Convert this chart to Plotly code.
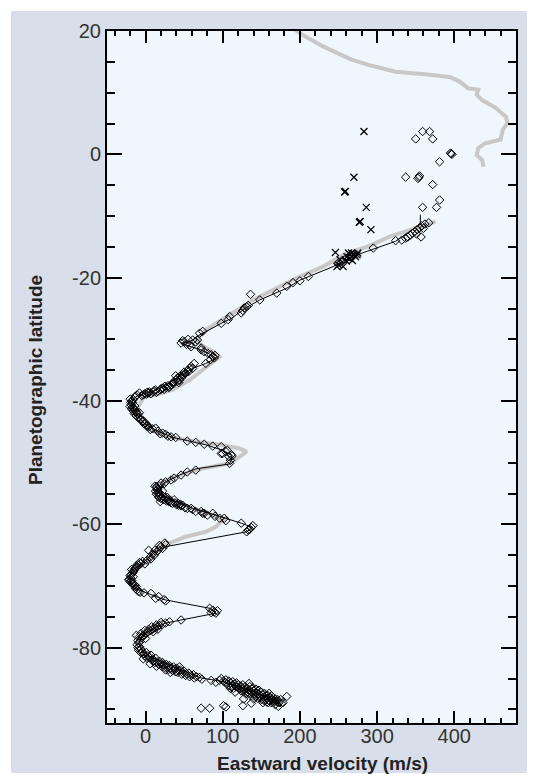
import plotly.graph_objects as go

# ---------------- data ----------------
# reference profile (thick gray), two pieces separated by None
gray_v = [187, 203, 230, 266, 292, 324, 369, 395, 407, 418, 431, 429, 436, 454, 467, 469, 463, 460, 440, 431, 429, 436, 438,
          None,
          376, 348, 317, 287, 261, 230, 200, 165, 135, 122, 109, 96, 78, 70, 66, 76, 87, 96, 85, 72, 57, 35, 13, -2, -11, -6, 0,
          17, 39, 65, 96, 122, 131, 122, 109, 96, 75, 44, 26, 15, 24, 39, 61, 83, 100, 91, 78, 52, 26, 13, -4, -17, -22, -17, -11]
gray_lat = [20.8, 19.4, 17.5, 15.4, 14.4, 13.4, 12.9, 12.5, 11.8, 10.7, 10.5, 9.7, 8.8, 7.5, 6.1, 5.1, 4.0, 2.4, 1.8, 1.0, -0.1, -0.9, -2.0,
            None,
            -10.9, -12.0, -13.3, -15.0, -16.0, -18.2, -19.8, -22.0, -23.9, -25.0, -26.0, -27.1, -28.5, -29.6, -30.4, -31.2, -31.9, -32.8,
            -33.9, -35.0, -36.6, -38.2, -39.0, -39.3, -41.2, -43.1, -44.2, -45.2, -46.0, -46.6, -47.1, -47.7, -48.2, -49.0, -50.1, -50.4,
            -50.9, -52.0, -53.1, -54.4, -55.5, -56.3, -57.4, -58.3, -59.3, -60.4, -61.2, -62.0, -63.3, -64.4, -66.6, -67.4, -68.7, -69.8, -70.5]

# fitted profile (thin black)
fit_v = [356, 356, 324, 296, 267, 243, 200, 183, 148, 130, 111, 98, 78, 70, 57, 46, 59, 72, 85, 91, 78, 61, 48, 26, 9, -9, -17, -17,
         -11, -2, 13, 35, 54, 78, 98, 111, 111, 109, 65, 44, 26, 15, 24, 39, 61, 83, 104, 124, 139, 131, 26, 13, -4, -17, -22, -17,
         -9, 7, 24, 83, 91, 46, 26, 9, -4, -9, -4, 9, 17, 35, 57, 72, 87, 104, 122, 139, 157, 174]
fit_lat = [-9.8, -11.3, -14.1, -15.3, -16.6, -18.2, -20.4, -21.7, -23.6, -24.9, -26.6, -27.4, -28.7, -29.3, -30.4, -30.6, -31.2,
           -31.7, -32.5, -33.1, -33.9, -34.7, -35.7, -37.4, -38.5, -39.0, -39.8, -40.9, -42.3, -43.6, -44.7, -45.9, -46.4, -47.1,
           -47.9, -48.7, -49.5, -50.2, -51.0, -52.0, -53.1, -54.4, -55.5, -56.3, -57.4, -58.2, -59.0, -59.8, -60.5, -61.2, -63.6,
           -64.4, -66.3, -67.4, -68.7, -69.8, -70.6, -71.4, -72.2, -73.6, -74.4, -75.5, -76.0, -76.9, -77.9, -79.3, -80.6, -81.7,
           -82.0, -83.0, -84.1, -84.9, -85.2, -85.6, -86.3, -87.1, -87.9, -88.7]

# cloud-tracked winds (open diamonds), grouped by latitude band: (velocity, latitude)
diam_equator = [(350, 2.5), (359, 3.7), (368, 3.7), (372, 2.5), (396, 0.1), (397, 0.0), (395, 0.2), (381, -1.2), (337, -3.7),
                (354, -3.7), (355, -3.5), (353, -3.9), (372, -4.9), (381, -7.4), (359, -8.6), (377, -8.6), (367, -11.1),
                (357, -13.4), (295, -15.2), (324, -14.0)]
diam_m10_20 = [(362, -11.3), (358, -11.6), (355, -11.9), (352, -12.2), (349, -12.5), (346, -12.8), (343, -13.1), (340, -13.4),
               (360, -12.0), (351, -12.9), (337, -13.6), (332, -13.9), (270, -16.3), (265, -16.6), (260, -16.9), (255, -17.2),
               (250, -17.6), (211, -19.8), (200, -20.5)]
diam_m20_30 = [(191, -20.8), (183, -21.4), (170, -22.5), (148, -23.6), (136, -22.7), (131, -24.7), (128, -24.9), (126, -25.3),
               (133, -24.5), (124, -25.7), (109, -26.3), (107, -26.8), (98, -27.4), (74, -28.7), (70, -29.0)]
diam_kink = [(61, -30.1), (50, -30.4), (46, -30.6), (57, -30.9), (59, -31.2), (65, -30.4), (67, -30.1), (72, -31.7), (85, -32.5),
             (87, -32.8), (89, -33.0), (84, -33.3), (78, -33.9), (53, -30.8), (48, -30.2), (55, -30.0), (72, -31.4), (76, -32.0),
             (81, -32.3), (90, -32.6)]
diam_m33_39 = [(61, -34.7), (57, -34.7), (52, -35.5), (46, -36.3), (44, -36.6), (31, -37.7), (22, -37.9), (13, -38.2), (4, -38.7),
               (63, -33.9), (59, -34.4), (55, -35.0), (50, -35.3), (48, -35.8), (45, -35.9), (42, -36.2), (40, -36.5), (37, -36.9),
               (35, -37.1), (33, -37.4), (29, -37.5), (27, -37.8), (24, -38.1), (19, -38.2), (16, -38.4), (10, -38.5), (7, -38.8),
               (1, -38.9), (-3, -39.0), (39, -35.9), (43, -37.0), (-8, -38.7), (56, -35.2), (51, -35.6), (47, -36.0), (41, -36.8),
               (36, -37.2), (30, -37.8), (25, -37.6), (20, -38.0), (14, -38.6), (11, -38.3), (5, -38.5), (2, -38.6), (-1, -38.8),
               (-5, -39.1)]
diam_m39_48 = [(-11, -39.0), (-17, -40.3), (-15, -41.2), (-11, -42.0), (-4, -43.3), (4, -44.2), (13, -44.4), (22, -45.2),
               (33, -45.8), (39, -45.9), (54, -46.5), (65, -46.7), (76, -47.0), (87, -47.3), (-14, -39.4), (-16, -39.8),
               (-18, -40.0), (-19, -40.6), (-17, -41.0), (-13, -41.5), (-14, -40.8), (-18, -41.3), (-12, -42.4), (-9, -42.7),
               (-7, -43.0), (-2, -43.7), (1, -44.0), (6, -44.6), (9, -44.5), (16, -44.9), (19, -45.3), (26, -45.4), (29, -45.7),
               (-20, -39.7), (-15, -42.0), (-8, -41.9), (-13, -39.2), (-19, -40.2), (-20, -40.9), (-16, -41.6), (-12, -41.8),
               (-10, -42.2), (-6, -42.9), (-3, -43.2), (0, -43.6), (3, -44.0)]
diam_m48_60 = [(98, -47.4), (104, -48.2), (111, -48.7), (98, -48.5), (109, -50.1), (100, -48.5), (106, -48.0), (108, -49.0),
               (110, -49.6), (112, -48.9), (65, -51.2), (54, -51.5), (46, -52.0), (37, -52.5), (33, -52.8), (26, -53.1),
               (20, -53.3), (15, -54.4), (24, -53.4), (18, -53.8), (15, -54.0), (13, -54.6), (16, -54.8), (14, -55.1),
               (18, -55.3), (17, -55.6), (20, -55.8), (22, -55.4), (24, -56.0), (27, -56.2), (30, -56.3), (33, -56.5),
               (35, -56.6), (37, -56.0), (40, -56.8), (43, -56.9), (46, -57.0), (48, -56.9), (51, -57.3), (54, -57.4),
               (59, -57.4), (61, -57.6), (65, -57.9), (72, -57.9), (74, -58.2), (76, -58.2), (80, -58.5), (87, -58.2),
               (90, -58.7), (96, -59.0), (22, -54.6), (19, -56.3), (28, -55.6), (12, -53.8), (14, -53.9), (16, -54.3),
               (17, -54.9), (19, -55.0), (21, -55.7), (25, -55.6), (29, -56.0), (32, -56.1), (38, -56.5), (42, -56.6),
               (45, -56.7)]
diam_m60_71 = [(124, -59.8), (137, -60.5), (139, -60.2), (131, -61.2), (133, -60.9), (135, -60.8), (102, -59.0), (104, -59.4),
               (26, -63.3), (20, -63.6), (4, -64.2), (11, -65.0), (2, -65.8), (22, -63.9), (17, -64.1), (14, -64.5), (9, -64.8),
               (6, -65.3), (25, -63.0), (18, -63.4), (12, -64.2), (7, -65.6), (-4, -66.0), (-9, -66.6), (-13, -67.1),
               (-17, -67.9), (-19, -68.7), (-17, -69.5), (-13, -70.4), (-9, -70.9), (-6, -66.3), (-11, -66.9), (-15, -67.5),
               (-19, -68.2), (-21, -68.9), (-20, -69.3), (-15, -70.0), (-11, -70.6), (-16, -68.5), (-18, -67.3), (-22, -69.0),
               (-14, -69.8), (-7, -71.0), (-2, -71.1), (-1, -66.4), (-8, -66.2), (-12, -66.7), (-14, -67.2), (-16, -67.7),
               (-20, -68.3), (-18, -69.1), (-16, -69.6), (-12, -70.1)]
diam_m71_78 = [(7, -71.2), (13, -72.0), (17, -71.7), (24, -72.2), (26, -72.4), (83, -73.6), (87, -73.9), (89, -74.2),
               (91, -74.4), (93, -74.0), (85, -74.3), (46, -75.5), (31, -75.8), (26, -76.0), (22, -76.2), (18, -76.4),
               (15, -76.6), (12, -76.8), (9, -77.0), (6, -77.2), (3, -77.4), (1, -77.7), (-2, -77.9), (-4, -78.1), (20, -75.9),
               (14, -76.3), (8, -76.6), (4, -77.0), (-1, -77.2), (-6, -77.7), (16, -77.0), (10, -77.4), (0, -78.5)]
diam_m78_85 = [(-8, -78.2), (-10, -78.8), (-7, -79.0), (-11, -79.5), (-8, -79.8), (-6, -80.2), (-9, -80.4), (-4, -80.7),
               (-2, -81.0), (1, -80.8), (3, -81.3), (5, -81.6), (7, -81.2), (9, -81.8), (11, -82.1), (13, -81.7), (15, -82.3),
               (18, -82.2), (20, -82.6), (22, -82.4), (24, -82.8), (27, -82.7), (29, -83.1), (31, -82.9), (33, -83.3),
               (36, -83.1), (38, -83.5), (40, -83.3), (43, -83.7), (45, -83.6), (48, -84.0), (50, -83.8), (53, -84.2),
               (56, -84.1), (59, -84.5), (62, -84.4), (66, -84.7), (70, -84.8), (73, -85.1), (85, -85.3), (91, -85.6),
               (96, -85.3), (-3, -81.8), (6, -82.6), (14, -83.0), (26, -83.6), (-12, -78.0), (44, -83.1), (32, -84.0),
               (-5, -78.4), (-9, -79.2), (-10, -80.0), (-6, -80.8), (-1, -81.3), (2, -81.7), (8, -82.0), (12, -82.4),
               (17, -82.7), (21, -83.0), (25, -83.2), (30, -83.5), (35, -83.7), (39, -83.9), (42, -84.0), (47, -84.3),
               (52, -84.5), (57, -84.7), (63, -84.9)]
diam_polar = [(98, -85.0), (101, -85.4), (104, -85.2), (106, -85.8), (108, -85.4), (110, -85.7), (112, -86.1), (113, -85.5),
              (115, -85.9), (117, -86.3), (118, -85.7), (120, -86.0), (121, -86.6), (123, -86.2), (125, -86.5), (126, -86.0),
              (128, -86.8), (129, -86.3), (131, -86.6), (132, -87.1), (134, -86.8), (135, -86.3), (137, -87.2), (138, -86.7),
              (140, -87.0), (141, -87.5), (143, -87.2), (144, -87.8), (146, -87.4), (148, -87.7), (149, -88.1), (151, -87.6),
              (153, -88.0), (155, -88.3), (156, -87.8), (158, -88.2), (160, -88.6), (162, -88.1), (164, -88.5), (166, -88.8),
              (168, -88.3), (170, -88.7), (173, -88.9), (175, -88.4), (178, -88.9), (183, -87.9), (134, -85.8), (147, -86.9),
              (160, -87.4), (152, -88.9), (140, -88.3), (130, -87.5), (124, -87.0), (110, -86.6), (116, -87.2), (127, -88.3),
              (168, -89.2), (172, -89.5), (72, -89.8), (83, -89.8), (101, -89.4), (104, -89.6), (126, -89.4), (137, -89.0),
              (157, -88.8), (176, -89.0), (103, -85.6), (107, -86.1), (111, -86.4), (114, -86.6), (119, -86.4), (122, -86.7),
              (127, -87.0), (133, -87.4), (136, -87.6), (142, -87.9), (145, -88.2), (150, -88.4), (154, -88.6), (159, -88.9),
              (163, -88.9), (167, -88.6), (171, -88.4), (139, -86.5), (143, -86.7), (150, -87.2), (154, -87.4), (158, -87.7),
              (163, -87.8)]

# second data set (x markers)
xmark_v = [283, 270, 258, 259, 286, 277, 278, 292, 246, 252, 248, 256, 250, 267, 261, 274, 263, 270, 265, 272, 268, 260, 275]
xmark_lat = [3.7, -3.7, -6.1, -6.0, -8.6, -11.0, -10.9, -12.2, -15.9, -17.1, -18.2, -18.2, -17.9, -16.0, -16.6, -16.3, -16.0,
             -16.2, -16.9, -16.6, -17.2, -17.3, -16.0]

x_tickvals = [0, 100, 200, 300, 400]
y_tickvals = [-80, -60, -40, -20, 0, 20]
y_ticktext = ["-80", "-60", "-40", "-20", "0", "20"]
x_title = "Eastward velocity (m/s)"
y_title = "Planetographic latitude"

# ---------------- figure ----------------
diamonds = (diam_equator + diam_m10_20 + diam_m20_30 + diam_kink + diam_m33_39 + diam_m39_48 +
            diam_m48_60 + diam_m60_71 + diam_m71_78 + diam_m78_85 + diam_polar)
dv = [p[0] for p in diamonds]
dl = [p[1] for p in diamonds]

fig = go.Figure()
fig.add_trace(go.Scatter(x=gray_v, y=gray_lat, mode="lines", connectgaps=False,
                         line=dict(color="#c8c8c8", width=4), hoverinfo="skip"))
fig.add_trace(go.Scatter(x=fit_v, y=fit_lat, mode="lines",
                         line=dict(color="black", width=1)))
fig.add_trace(go.Scatter(x=dv, y=dl, mode="markers",
                         marker=dict(symbol="diamond-open", size=6.5, color="black", line=dict(width=1))))
fig.add_trace(go.Scatter(x=xmark_v, y=xmark_lat, mode="markers",
                         marker=dict(symbol="x-thin", size=7, color="black", line=dict(width=1.3, color="black"))))

# page has an 8px body margin, so the figure is 8px smaller than the window
W, H = 530, 767
L, R, T, B = 99, 22, 23, 52
pw, ph = W - L - R, H - T - B

def px_x(p):
    return (p - L) / pw

def px_y(p):
    return (H - B - p) / ph

fig.update_layout(
    width=W, height=H,
    margin=dict(l=L, r=R, t=T, b=B, pad=0),
    paper_bgcolor="white",
    plot_bgcolor="#eff7fd",
    showlegend=False,
    font=dict(family="Liberation Sans, Arial, sans-serif", size=20, color="#333333"),
    shapes=[
        dict(type="rect", xref="paper", yref="paper", layer="below",
             x0=px_x(3), x1=px_x(519), y0=px_y(765), y1=px_y(3),
             fillcolor="#d8dfea", line=dict(width=0)),
        dict(type="rect", xref="paper", yref="paper", layer="below",
             x0=0, x1=1, y0=0, y1=1, fillcolor="#eff7fd", line=dict(width=0)),
    ],
    annotations=[
        dict(text="<b>" + x_title + "</b>", xref="paper", yref="paper", x=px_x(314), y=px_y(755),
             xanchor="center", yanchor="middle", showarrow=False, font=dict(size=19, color="#222222")),
        dict(text="<b>" + y_title + "</b>", xref="paper", yref="paper", x=px_x(27), y=px_y(372),
             xanchor="center", yanchor="middle", showarrow=False, textangle=-90,
             font=dict(size=19, color="#222222")),
    ],
)

fig.update_xaxes(
    range=[-50, 480], tickvals=x_tickvals, ticks="inside", ticklen=12, tickwidth=2, tickcolor="black",
    showline=True, linewidth=2, linecolor="black", mirror="ticks", showgrid=False, zeroline=False, automargin=False,
    minor=dict(ticks="inside", tick0=0, dtick=20, ticklen=5, tickwidth=1.5, tickcolor="black", showgrid=False),
    tickfont=dict(size=20, color="#333333"), ticklabelstandoff=-6,
)
fig.update_yaxes(
    range=[-92.2, 20], tickvals=y_tickvals, ticktext=y_ticktext, ticks="inside", ticklen=15, tickwidth=2, tickcolor="black",
    showline=True, linewidth=2, linecolor="black", mirror="ticks", showgrid=False, zeroline=False, automargin=False,
    minor=dict(ticks="inside", tick0=0, dtick=5, ticklen=8, tickwidth=1.5, tickcolor="black", showgrid=False),
    tickfont=dict(size=20, color="#333333"),
)

fig.write_html("out.html")
